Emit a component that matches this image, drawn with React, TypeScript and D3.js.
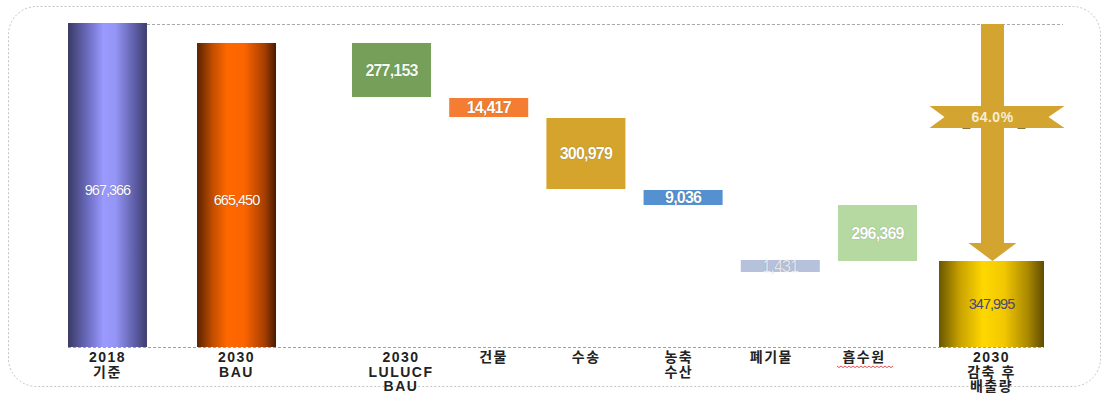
import React from "react";
import * as d3 from "d3";

// ---- data ----
const categoryKeys = ["2018 기준", "2030 BAU", "2030 LULUCF BAU", "건물", "수송", "농축 수산", "폐기물", "흡수원", "2030 감축 후 배출량"];
const categoryLines = [["2018", "기준"], ["2030", "BAU"], ["2030", "LULUCF", "BAU"], ["건물"], ["수송"], ["농축", "수산"], ["폐기물"], ["흡수원"], ["2030", "감축 후", "배출량"]];
const groups = ["base", "base", "sector", "sector", "sector", "sector", "sector", "sector", "result"];
// printed values
const values = [967366, 665450, 277153, 14417, 300979, 9036, 1431, 296369, 347995];
// drawn extents as they appear on the chart's (unlabelled) vertical axis
const levelTop = [967366, 907700, 907700, 743400, 683700, 468800, 259800, 424000, 256800];
const levelBottom = [0, 0, 746400, 686700, 471700, 424000, 224000, 256800, 0];

const W = 1105, H = 393;
const baseY = 347, topY = 23;

const fills = ["url(#gPurple)", "url(#gOrange)", "#76a05a", "#f47d33", "#d4a42c", "#5590d0", "#b6c2dc", "#b5d9a1", "url(#gGold)"];
const labelFill = ["#fff", "#fff", "#f4faee", "#fff", "#fff", "#fff", "rgba(255,255,255,0.8)", "#fff", "#4a4a72"];

export default function App() {
  const y = d3.scaleLinear().domain([0, values[0]]).range([baseY, topY]);

  const baseCats = categoryKeys.filter((_, i) => groups[i] === "base");
  const sectorCats = categoryKeys.filter((_, i) => groups[i] === "sector");
  const resultCats = categoryKeys.filter((_, i) => groups[i] === "result");

  const xBase = d3.scaleBand().domain(baseCats).range([68, 276]).paddingInner(0.388);
  const xSector = d3.scaleBand().domain(sectorCats).range([352, 917]).paddingInner(0.187);
  const xResult = d3.scaleBand().domain(resultCats).range([939, 1044]);
  const xSectorLabel = d3.scalePoint().domain(sectorCats).range([401, 864]);

  const bandOf = (i: number) => {
    const k = categoryKeys[i];
    const s = groups[i] === "base" ? xBase : groups[i] === "sector" ? xSector : xResult;
    return { x: s(k) as number, w: s.bandwidth() };
  };
  const labelX = (i: number) => {
    const b = bandOf(i);
    if (groups[i] === "sector") return xSectorLabel(categoryKeys[i]) as number;
    return b.x + b.w / 2;
  };

  const pct = d3.format(".1%")(1 - values[8] / values[0]);
  const fmt = d3.format(",");

  const last = bandOf(8);
  const ax = last.x + last.w / 2 + 1;
  const shaftTop = y(values[0]) + 1;
  const tipY = y(levelTop[8]);
  const headH = 18;
  const ribbonY = 117;

  const wavy = (x0: number, x1: number, yy: number) => {
    const pts: [number, number][] = [];
    let j = 0;
    for (let x = x0; x <= x1; x += 2, j++) pts.push([x, j % 2 === 0 ? yy : yy + 1.6]);
    return d3.line()(pts);
  };

  return (
    <svg width={W} height={H} style={{ position: "absolute", left: 0, top: 0, background: "#fff" }}>
      <defs>
        <linearGradient id="gPurple" x1="0" x2="1" y1="0" y2="0">
          <stop offset="0" stopColor="#3a3a66" />
          <stop offset="0.25" stopColor="#6c6cc0" />
          <stop offset="0.45" stopColor="#9a9aff" />
          <stop offset="0.6" stopColor="#9595f6" />
          <stop offset="0.85" stopColor="#5c5ca6" />
          <stop offset="1" stopColor="#3e3e6c" />
        </linearGradient>
        <linearGradient id="gOrange" x1="0" x2="1" y1="0" y2="0">
          <stop offset="0" stopColor="#5a2200" />
          <stop offset="0.2" stopColor="#c24e00" />
          <stop offset="0.38" stopColor="#ff6800" />
          <stop offset="0.6" stopColor="#fc6400" />
          <stop offset="0.85" stopColor="#a83f00" />
          <stop offset="1" stopColor="#4a1c00" />
        </linearGradient>
        <linearGradient id="gGold" x1="0" x2="1" y1="0" y2="0">
          <stop offset="0" stopColor="#6a5600" />
          <stop offset="0.2" stopColor="#c9a200" />
          <stop offset="0.42" stopColor="#ffd800" />
          <stop offset="0.62" stopColor="#f2c800" />
          <stop offset="0.85" stopColor="#a88700" />
          <stop offset="1" stopColor="#5e4c00" />
        </linearGradient>
      </defs>

      {/* outer frame */}
      <rect x={8.5} y={6.5} width={1092} height={380} rx={28} ry={28} fill="none" stroke="#c4c4c4" strokeDasharray="2,2" strokeWidth={1} />

      {/* top and bottom dashed guides */}
      <line x1={bandOf(0).x + bandOf(0).w} x2={1063} y1={y(values[0]) + 1.5} y2={y(values[0]) + 1.5} stroke="#a8a8a8" strokeDasharray="3,2" strokeWidth={1} />
      <line x1={bandOf(0).x} x2={last.x + last.w} y1={baseY + 0.5} y2={baseY + 0.5} stroke="#a0a0a0" strokeDasharray="3,2" strokeWidth={1} />

      {/* bars */}
      {values.map((v, i) => {
        const b = bandOf(i);
        const y0 = y(levelTop[i]);
        const y1 = y(levelBottom[i]);
        return <rect key={"b" + i} x={b.x} y={y0} width={b.w} height={y1 - y0} fill={fills[i]} />;
      })}

      {/* arrow */}
      <rect x={ax - 11.5} y={shaftTop} width={23} height={tipY - headH - shaftTop} fill="#d4a430" />
      <path d={`M${ax - 24},${tipY - headH} L${ax + 24},${tipY - headH} L${ax},${tipY} Z`} fill="#d4a430" />

      {/* ribbon */}
      <path
        d={`M${ax - 63},${ribbonY - 11} L${ax + 72},${ribbonY - 11} L${ax + 56},${ribbonY} L${ax + 72},${ribbonY + 11} L${ax - 63},${ribbonY + 11} L${ax - 48},${ribbonY} Z`}
        fill="#d4a430"
      />
      <line x1={ax - 30} x2={ax - 22} y1={ribbonY + 11.5} y2={ribbonY + 11.5} stroke="#8a7440" strokeWidth={1} />
      <line x1={ax + 25} x2={ax + 33} y1={ribbonY + 11.5} y2={ribbonY + 11.5} stroke="#8a7440" strokeWidth={1} />
      <text x={ax} y={ribbonY + 5} textAnchor="middle" fontFamily="Liberation Sans, Arial, sans-serif" fontWeight="bold" fontSize={14} fill="#f7edd2" letterSpacing={0.5}>
        {pct}
      </text>

      {/* value labels */}
      {values.map((v, i) => {
        const b = bandOf(i);
        const y0 = y(levelTop[i]);
        const y1 = y(levelBottom[i]);
        const cy = (y0 + y1) / 2 + (i < 2 ? 5 : 0);
        const big = i >= 2 && i <= 7;
        return (
          <text
            key={"v" + i}
            x={b.x + b.w / 2}
            y={cy}
            dy="0.36em"
            textAnchor="middle"
            fontFamily="Liberation Sans, Arial, sans-serif"
            fontSize={big ? 16 : 14.5}
            fontWeight={big && i !== 6 ? "bold" : "normal"}
            letterSpacing={big ? -0.8 : -1}
            fill={labelFill[i]}
            style={{ textShadow: i === 8 ? "none" : "0 0 1px rgba(0,0,0,0.35)" }}
          >
            {fmt(v)}
          </text>
        );
      })}

      {/* category labels */}
      {categoryLines.map((lines, i) => (
        <text key={"c" + i} textAnchor="middle" fontFamily="Liberation Sans, Arial, 'Noto Sans CJK KR', sans-serif" fontWeight="bold" fontSize={14} fill="#222" letterSpacing={1.5}>
          {lines.map((t, j) => (
            <tspan key={j} x={labelX(i)} y={362 + j * 14.5}>
              {t}
            </tspan>
          ))}
        </text>
      ))}
      {/* spell-check squiggle under 흡수원 */}
      <path d={wavy(labelX(7) - 27, labelX(7) + 29, 366) || ""} fill="none" stroke="#e04040" strokeWidth={0.9} />
    </svg>
  );
}
